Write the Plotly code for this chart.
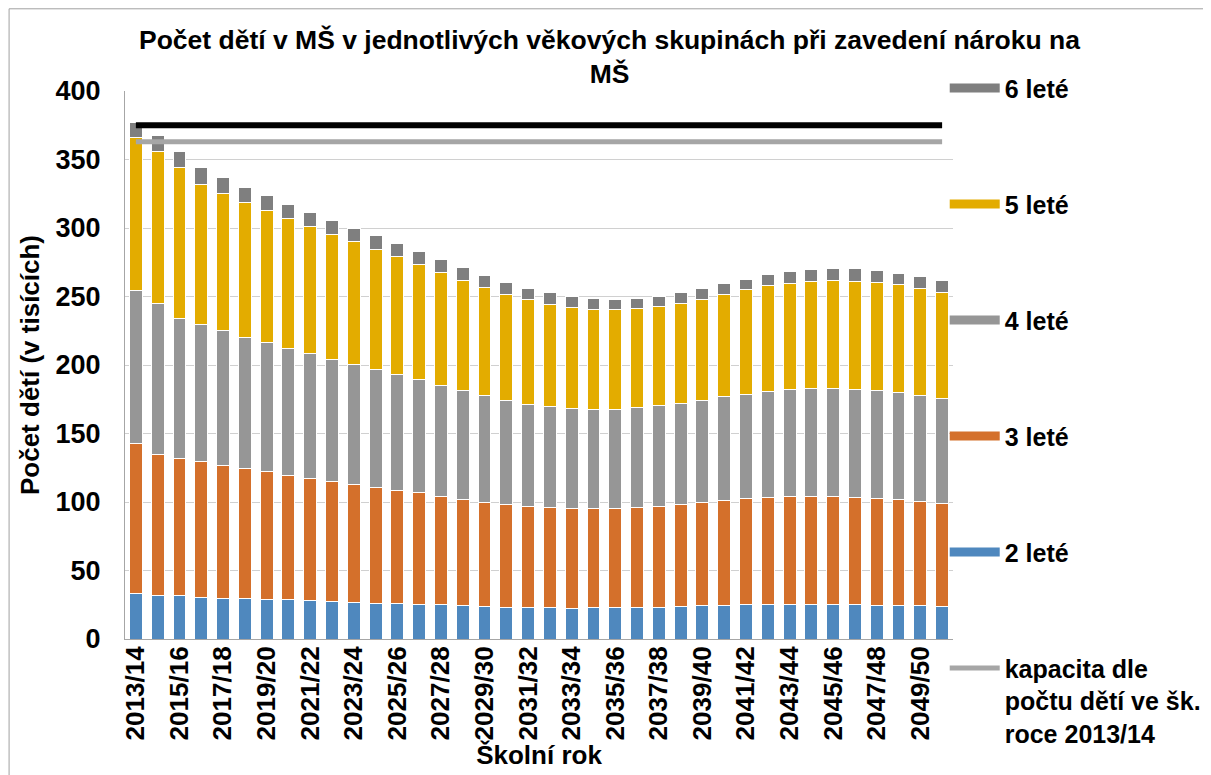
import plotly.graph_objects as go

school_years = [
    "2013/14", "2014/15", "2015/16", "2016/17", "2017/18", "2018/19", "2019/20", "2020/21",
    "2021/22", "2022/23", "2023/24", "2024/25", "2025/26", "2026/27", "2027/28", "2028/29",
    "2029/30", "2030/31", "2031/32", "2032/33", "2033/34", "2034/35", "2035/36", "2036/37",
    "2037/38", "2038/39", "2039/40", "2040/41", "2041/42", "2042/43", "2043/44", "2044/45",
    "2045/46", "2046/47", "2047/48", "2048/49", "2049/50", "2050/51",
]
tick_labels = school_years[::2]

age2 = [33.1, 32.0, 31.5, 30.4, 29.9, 29.4, 29.1, 28.6, 27.8, 27.2, 27.0, 26.2, 25.7, 25.4,
        24.9, 24.3, 23.8, 23.3, 23.0, 23.0, 22.5, 23.0, 23.0, 23.0, 23.3, 23.8, 24.1, 24.6,
        24.9, 24.9, 24.9, 24.9, 24.9, 24.9, 24.6, 24.3, 24.1, 23.8]
age3 = [109.9, 102.4, 100.0, 99.0, 96.6, 94.7, 92.9, 90.7, 89.4, 87.9, 86.0, 84.6, 83.0, 81.2,
        79.1, 77.6, 76.2, 74.8, 73.6, 72.8, 72.7, 72.0, 72.2, 73.0, 73.5, 74.6, 75.9, 76.5,
        77.5, 78.3, 78.8, 79.1, 78.8, 78.5, 78.0, 77.6, 76.4, 75.4]
age4 = [111.5, 110.3, 102.6, 100.2, 98.6, 96.3, 94.1, 92.9, 91.0, 89.1, 87.5, 85.8, 84.2, 82.6,
        81.2, 79.3, 77.8, 76.2, 74.8, 74.0, 73.1, 72.5, 72.3, 72.8, 73.3, 73.6, 74.3, 75.6,
        76.4, 77.8, 78.3, 78.8, 78.8, 78.6, 78.6, 78.0, 77.3, 76.7]
age5 = [111.4, 111.1, 110.3, 102.4, 100.3, 98.4, 96.6, 94.7, 93.1, 91.3, 89.5, 87.8, 86.2, 84.1,
        82.5, 80.7, 78.8, 77.3, 76.5, 74.4, 73.8, 73.2, 72.7, 72.2, 72.5, 72.7, 73.8, 74.6,
        76.0, 76.7, 77.8, 78.3, 79.1, 79.1, 78.8, 78.6, 78.0, 76.7]
age6 = [11.1, 11.9, 11.4, 11.9, 11.1, 11.1, 10.8, 10.6, 10.1, 10.1, 9.7, 10.0, 9.3, 9.2,
        9.3, 9.3, 9.0, 8.7, 8.2, 8.4, 7.9, 8.0, 7.9, 7.9, 7.7, 7.9, 7.7, 8.0,
        7.9, 8.2, 8.5, 8.7, 8.8, 9.0, 8.8, 8.2, 8.5, 9.3]

capacity_2013 = 363
upper_line = 375

series_names = ["2 leté", "3 leté", "4 leté", "5 leté", "6 leté"]
series_values = [age2, age3, age4, age5, age6]
series_colors = ["#4f88be", "#d4702b", "#969696", "#e3ac00", "#7f7f7f"]
capacity_label = "kapacita dle<br>počtu dětí ve šk.<br>roce 2013/14"

FONT = "Liberation Sans, Arial, sans-serif"

fig = go.Figure()

for name, vals, col in zip(series_names, series_values, series_colors):
    fig.add_trace(go.Bar(
        x=school_years, y=vals, name=name, showlegend=False,
        marker=dict(color=col, line=dict(color="white", width=1)),
    ))

fig.add_trace(go.Scatter(
    x=[school_years[0], school_years[-1]], y=[upper_line, upper_line],
    mode="lines", line=dict(color="#000000", width=6), showlegend=False,
))
fig.add_trace(go.Scatter(
    x=[school_years[0], school_years[-1]], y=[capacity_2013, capacity_2013],
    mode="lines", line=dict(color="#a6a6a6", width=5), showlegend=False,
))

# legend entries (wide swatches like the original)
legend_order = list(zip(series_names, series_colors))[::-1]
for rank, (name, col) in enumerate(legend_order):
    fig.add_trace(go.Scatter(
        x=[None], y=[None], mode="lines", name=name,
        line=dict(color=col, width=9), legendgroup=name, legendrank=rank + 1,
    ))
fig.add_trace(go.Scatter(
    x=[None], y=[None], mode="lines", name=capacity_label,
    line=dict(color="#a6a6a6", width=5), legendgroup="kap", legendrank=10,
))

fig.update_layout(
    width=1203, height=767,
    margin=dict(l=117, r=258, t=83, b=136, autoexpand=False),
    paper_bgcolor="white", plot_bgcolor="white",
    barmode="stack", bargap=0.41,
    font=dict(family=FONT, color="black", size=24),
    title=dict(
        text="<b>Počet dětí v MŠ v jednotlivých věkových skupinách při zavedení nároku na<br>MŠ</b>",
        x=0.5, xref="container", xanchor="center",
        y=0.947, yref="container", yanchor="top",
        font=dict(size=26.5, family=FONT, color="black"),
    ),
    legend=dict(
        x=0.99, xanchor="left", y=1.047, yanchor="top",
        font=dict(size=25, family=FONT, color="black", weight="bold"),
        tracegroupgap=80.5, itemwidth=50, valign="top",
        bgcolor="rgba(0,0,0,0)", maxheight=760,
    ),
    showlegend=True,
)

fig.update_yaxes(
    range=[0, 400], dtick=50, showgrid=True, gridcolor="#d0d0d0", gridwidth=1,
    showline=True, linecolor="#a6a6a6", linewidth=1, automargin=False,
    tickfont=dict(size=27, family=FONT, color="black", weight="bold"),
    ticklabelstandoff=18,
    title=dict(text="<b>Počet dětí (v tisících)</b>", font=dict(size=26, family=FONT), standoff=8),
    zeroline=False,
)
fig.update_xaxes(
    type="category", tickmode="array", tickvals=tick_labels, ticktext=tick_labels,
    tickangle=-90, showgrid=False, showline=True, linecolor="#a6a6a6", linewidth=1,
    automargin=False,
    tickfont=dict(size=26, family=FONT, color="black", weight="bold"),
    ticklabelstandoff=-4,
    title=dict(text="<b>Školní rok</b>", font=dict(size=26, family=FONT), standoff=0),
)

# outer chart frame
fig.add_shape(type="rect", xref="paper", yref="paper",
              x0=-0.14, x1=1.33, y0=-0.3, y1=1.15,
              line=dict(color="#a0a0a0", width=1), fillcolor="rgba(0,0,0,0)", layer="below")

fig.write_html("out.html")
